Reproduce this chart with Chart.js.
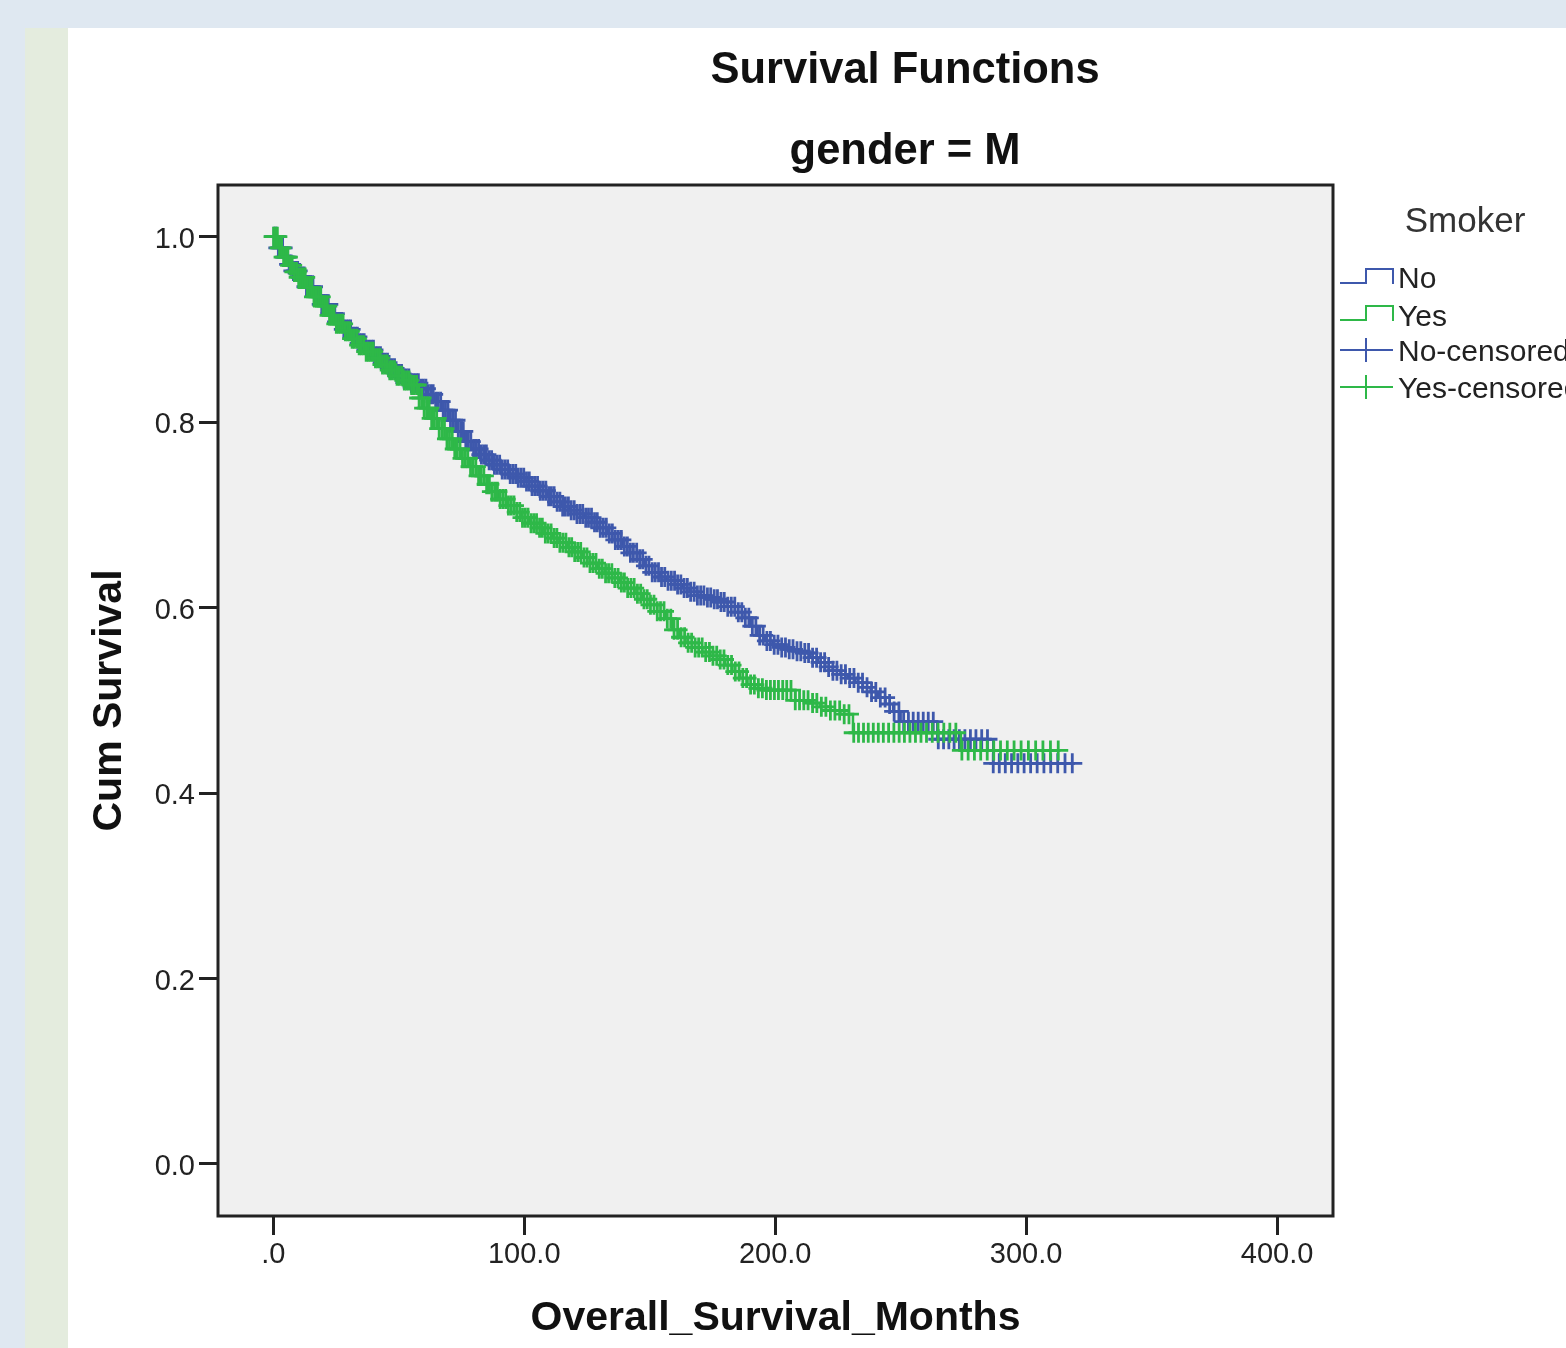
<!DOCTYPE html>
<html>
<head>
<meta charset="utf-8">
<title>Survival Functions</title>
<script src="https://cdn.jsdelivr.net/npm/chart.js@4.4.1/dist/chart.umd.min.js"></script>
<style>
  html, body { margin: 0; padding: 0; }
  body { width: 1566px; height: 1348px; background: #dfe8f1; overflow: hidden; position: relative; }
  #strip { position: absolute; left: 25px; top: 28px; width: 43px; height: 1320px; background: #e4ecde; }
  #panel { position: absolute; left: 68px; top: 28px; width: 1498px; height: 1320px; background: #ffffff; }
  #wrap { position: absolute; left: 68px; top: 28px; width: 1674px; height: 1320px; }
</style>
</head>
<body>
<div id="strip"></div>
<div id="panel"></div>
<div id="wrap"><canvas id="myChart"></canvas></div>
<script>
// data
const seriesLabels = ['No', 'Yes'];
const xTicks = [0, 100, 200, 300, 400];
const yTicks = [0, 0.2, 0.4, 0.6, 0.8, 1.0];

// "No" survival steps (time in months, cum survival)
const noTimes = [0, 2, 4, 6, 8, 10, 13, 16, 19, 22, 25, 28, 31, 34, 37, 40, 43, 46, 49, 52,
  55, 58, 61, 64, 67, 70, 73, 76, 79, 82, 85, 88, 91, 94, 97, 100, 103, 106, 109, 112,
  115, 118, 121, 124, 127, 130, 133, 136, 139, 142, 145, 148, 151, 154, 157, 160, 163, 166, 169, 172,
  175, 178, 181, 184, 187, 190, 193, 196, 199, 202, 205, 208, 211, 214, 217, 220, 223, 226, 229, 232,
  235, 238, 241, 244, 247, 250, 264.6, 286.9, 318.6];
const noSurv = [1.0, 0.988, 0.978, 0.970, 0.963, 0.957, 0.946, 0.936, 0.927, 0.917, 0.908, 0.900, 0.892, 0.885, 0.878, 0.871, 0.864, 0.858, 0.852, 0.847,
  0.842, 0.836, 0.830, 0.822, 0.813, 0.802, 0.790, 0.779, 0.771, 0.765, 0.759, 0.754, 0.749, 0.744, 0.740, 0.736, 0.731, 0.726, 0.720, 0.714,
  0.709, 0.705, 0.701, 0.697, 0.692, 0.686, 0.680, 0.673, 0.666, 0.659, 0.652, 0.645, 0.638, 0.633, 0.629, 0.625, 0.621, 0.617, 0.613, 0.611,
  0.609, 0.606, 0.601, 0.595, 0.589, 0.580, 0.570, 0.564, 0.560, 0.557, 0.555, 0.553, 0.551, 0.546, 0.541, 0.536, 0.532, 0.528, 0.524, 0.519,
  0.514, 0.509, 0.503, 0.496, 0.488, 0.477, 0.458, 0.432, 0.432];

// "Yes" survival steps
const yesTimes = [0, 2, 4, 6, 8, 10, 13, 16, 19, 22, 25, 28, 31, 34, 37, 40, 43, 46, 49, 52,
  55, 58, 60, 63, 66, 69, 72, 75, 78, 81, 84, 87, 90, 93, 96, 99, 102, 105, 108, 111,
  114, 117, 120, 123, 126, 129, 132, 135, 138, 141, 144, 147, 150, 153, 156, 159, 162, 165, 168, 171,
  174, 177, 180, 183, 186, 189, 192, 196, 208, 214, 218, 222, 226, 231, 274, 313];
const yesSurv = [1.0, 0.988, 0.978, 0.969, 0.962, 0.956, 0.945, 0.935, 0.925, 0.915, 0.906, 0.898, 0.890, 0.883, 0.876, 0.869, 0.862, 0.856, 0.850, 0.845,
  0.840, 0.826, 0.815, 0.804, 0.793, 0.782, 0.771, 0.761, 0.752, 0.742, 0.733, 0.725, 0.717, 0.710, 0.703, 0.697, 0.691, 0.686, 0.680, 0.675,
  0.670, 0.665, 0.660, 0.654, 0.648, 0.642, 0.637, 0.632, 0.627, 0.621, 0.615, 0.609, 0.603, 0.596, 0.588, 0.576, 0.568, 0.562, 0.557, 0.552,
  0.548, 0.544, 0.538, 0.531, 0.524, 0.517, 0.513, 0.511, 0.500, 0.497, 0.493, 0.489, 0.485, 0.465, 0.446, 0.446];

// censored times
const noCensored = [0.3, 1.2, 2.0, 2.9, 3.7, 4.6, 5.4, 6.3, 7.1, 8.0, 8.9, 9.7, 10.6, 11.4, 12.3, 13.2, 14.0, 14.9, 15.8, 16.6,
  17.5, 18.4, 19.3, 20.1, 21.0, 21.9, 22.8, 23.7, 24.5, 25.4, 26.3, 27.2, 28.1, 29.0, 29.9, 30.8, 31.7, 32.6, 33.5, 34.4,
  35.3, 36.2, 37.1, 38.0, 39.0, 39.9, 40.8, 41.7, 42.7, 43.6, 44.5, 45.5, 46.4, 47.3, 48.3, 49.2, 50.2, 51.1, 52.1, 53.0,
  54.0, 55.0, 55.9, 56.9, 57.8, 58.8, 59.8, 60.8, 61.7, 62.7, 63.7, 64.7, 65.7, 66.7, 67.7, 68.6, 69.6, 70.6, 71.6, 72.6,
  73.7, 74.7, 75.7, 76.7, 77.7, 78.7, 79.8, 80.8, 81.8, 82.9, 83.9, 84.9, 86.0, 87.0, 88.1, 89.1, 90.2, 91.2, 92.3, 93.4,
  94.4, 95.5, 96.6, 97.6, 98.7, 99.8, 100.9, 102.0, 103.1, 104.2, 105.3, 106.4, 107.5, 108.6, 109.7, 110.8, 111.9, 113.1, 114.2, 115.3,
  116.4, 117.6, 118.7, 119.9, 121.0, 122.2, 123.3, 124.5, 125.6, 126.8, 128.0, 129.1, 130.3, 131.5, 132.7, 133.9, 135.1, 136.3, 137.5, 138.7,
  139.9, 141.1, 142.3, 143.5, 144.8, 146.0, 147.2, 148.5, 149.7, 151.0, 152.2, 153.5, 154.7, 156.0, 157.3, 158.6, 159.9, 161.1, 162.4, 163.7,
  165.0, 166.3, 167.7, 169.0, 170.3, 171.6, 173.0, 174.3, 175.7, 177.0, 178.4, 179.7, 181.1, 182.5, 183.9, 185.3, 186.7, 188.1, 189.5, 190.9,
  192.3, 193.8, 195.2, 196.7, 198.1, 199.6, 201.1, 202.6, 204.1, 205.6, 207.1, 208.7, 210.2, 211.8, 213.3, 214.9, 216.5, 218.1, 219.7, 221.3,
  223.0, 224.6, 226.3, 228.0, 229.7, 231.4, 233.1, 234.8, 236.6, 238.4, 240.1, 241.9, 243.8, 245.6, 247.4, 249.3, 251.2, 253.1, 255.0, 257.0,
  259.0, 261.0, 263.0, 265.0, 267.1, 269.2, 271.3, 273.4, 275.6, 277.8, 280.0, 282.3, 284.6, 286.9, 289.3, 291.7, 294.2, 296.7, 299.2, 301.8,
  304.4, 307.1, 309.8, 312.6, 315.5, 318.4];
const yesCensored = [0.1, 0.8, 1.6, 2.5, 3.3, 4.1, 5.0, 5.8, 6.7, 7.5, 8.4, 9.3, 10.1, 11.0, 11.9, 12.7, 13.6, 14.5, 15.4, 16.2,
  17.1, 18.0, 18.9, 19.8, 20.6, 21.5, 22.4, 23.3, 24.2, 25.1, 26.0, 26.9, 27.8, 28.7, 29.6, 30.5, 31.4, 32.3, 33.3, 34.2,
  35.1, 36.0, 37.0, 37.9, 38.8, 39.8, 40.7, 41.6, 42.6, 43.5, 44.5, 45.4, 46.4, 47.3, 48.3, 49.3, 50.2, 51.2, 52.2, 53.1,
  54.1, 55.1, 56.1, 57.1, 58.1, 59.1, 60.1, 61.1, 62.1, 63.1, 64.1, 65.1, 66.1, 67.2, 68.2, 69.2, 70.2, 71.3, 72.3, 73.3,
  74.4, 75.4, 76.5, 77.5, 78.6, 79.6, 80.7, 81.8, 82.8, 83.9, 85.0, 86.1, 87.1, 88.2, 89.3, 90.4, 91.5, 92.6, 93.7, 94.8,
  95.9, 97.0, 98.2, 99.3, 100.4, 101.5, 102.7, 103.8, 104.9, 106.1, 107.2, 108.4, 109.5, 110.7, 111.9, 113.0, 114.2, 115.4, 116.6, 117.8,
  118.9, 120.1, 121.3, 122.5, 123.8, 125.0, 126.2, 127.4, 128.6, 129.9, 131.1, 132.4, 133.6, 134.9, 136.1, 137.4, 138.7, 139.9, 141.2, 142.5,
  143.8, 145.1, 146.4, 147.7, 149.0, 150.3, 151.7, 153.0, 154.3, 155.7, 157.0, 158.4, 159.7, 161.1, 162.5, 163.9, 165.3, 166.7, 168.1, 169.5,
  170.9, 172.3, 173.8, 175.2, 176.7, 178.1, 179.6, 181.1, 182.6, 184.1, 185.6, 187.1, 188.6, 190.2, 191.7, 193.3, 194.9, 196.5, 198.1, 199.7,
  201.3, 203.0, 204.6, 206.3, 208.0, 209.7, 211.4, 213.1, 214.9, 216.6, 218.4, 220.2, 222.0, 223.8, 225.7, 227.5, 229.4, 231.3, 233.2, 235.2,
  237.1, 239.1, 241.1, 243.1, 245.2, 247.3, 249.4, 251.5, 253.7, 255.9, 258.1, 260.3, 262.6, 264.9, 267.2, 269.6, 272.0, 274.4, 276.9, 279.4,
  281.9, 284.5, 287.1, 289.8, 292.5, 295.2, 298.0, 300.9, 303.8, 306.7, 309.7, 312.8];

const blue = '#3e58ac';
const green = '#2eb848';
const fontFam = '"Liberation Sans", Arial, sans-serif';

// survival value at time t on a step curve
function survAt(times, surv, t) {
  let s = surv[0];
  for (let i = 0; i < times.length; i++) {
    if (times[i] <= t) s = surv[i];
  }
  return s;
}

function stepPoints(times, surv) {
  return times.map((t, i) => ({ x: t, y: surv[i] }));
}

function censorPoints(cens, times, surv) {
  return cens.map(t => ({ x: t, y: survAt(times, surv, t) }));
}

// plot background + frame
const framePlugin = {
  id: 'frame',
  beforeDatasetsDraw(chart) {
    const a = chart.chartArea;
    const ctx = chart.ctx;
    ctx.save();
    ctx.fillStyle = '#f0f0f0';
    ctx.fillRect(a.left, a.top, a.right - a.left, a.bottom - a.top);
    ctx.restore();
  },
  afterDraw(chart) {
    const a = chart.chartArea;
    const ctx = chart.ctx;
    ctx.save();
    ctx.strokeStyle = '#222';
    ctx.lineWidth = 3;
    ctx.strokeRect(a.left, a.top, a.right - a.left, a.bottom - a.top);
    ctx.restore();
  }
};

// SPSS style legend on the right
const legendPlugin = {
  id: 'smokerLegend',
  afterDraw(chart) {
    const ctx = chart.ctx;
    const x0 = 1272, x1 = 1298, x2 = 1325, tx = 1330;
    ctx.save();
    ctx.fillStyle = '#333';
    ctx.font = '35px ' + fontFam;
    ctx.textAlign = 'center';
    ctx.textBaseline = 'middle';
    ctx.fillText('Smoker', 1397, 194);

    ctx.font = '30px ' + fontFam;
    ctx.textAlign = 'left';
    ctx.lineWidth = 2;
    const cols = [blue, green];
    // step icons
    [255, 292].forEach((y, i) => {
      ctx.strokeStyle = cols[i];
      ctx.beginPath();
      ctx.moveTo(x0, y);
      ctx.lineTo(x1, y);
      ctx.lineTo(x1, y - 14);
      ctx.lineTo(x2, y - 14);
      ctx.lineTo(x2, y + 1);
      ctx.stroke();
      ctx.fillStyle = '#222';
      ctx.fillText(seriesLabels[i], tx, y - 3 + i);
    });
    // censored icons
    [322, 359].forEach((y, i) => {
      ctx.strokeStyle = cols[i];
      ctx.beginPath();
      ctx.moveTo(x0, y);
      ctx.lineTo(x2, y);
      ctx.moveTo(x1, y - 12);
      ctx.lineTo(x1, y + 12);
      ctx.stroke();
      ctx.fillStyle = '#222';
      ctx.fillText(seriesLabels[i] + '-censored', tx, y + 3);
    });
    ctx.restore();
  }
};

const data = {
  datasets: [
    {
      type: 'line', label: seriesLabels[1], data: stepPoints(yesTimes, yesSurv),
      borderColor: green, borderWidth: 2.5, stepped: 'before', pointRadius: 0, fill: false, order: 1
    },
    {
      type: 'scatter', label: seriesLabels[1] + '-censored', data: censorPoints(yesCensored, yesTimes, yesSurv),
      borderColor: green, backgroundColor: green, pointStyle: 'cross', pointRadius: 10, borderWidth: 2.8, order: 0
    },
    {
      type: 'line', label: seriesLabels[0], data: stepPoints(noTimes, noSurv),
      borderColor: blue, borderWidth: 2.5, stepped: 'before', pointRadius: 0, fill: false, order: 3
    },
    {
      type: 'scatter', label: seriesLabels[0] + '-censored', data: censorPoints(noCensored, noTimes, noSurv),
      borderColor: blue, backgroundColor: blue, pointStyle: 'cross', pointRadius: 10, borderWidth: 2.8, order: 2
    }
  ]
};

const config = {
  type: 'scatter',
  data,
  options: {
    responsive: true,
    maintainAspectRatio: false,
    animation: false,
    layout: { padding: 0 },
    plugins: {
      legend: { display: false },
      tooltip: { enabled: false },
      title: {
        display: true, text: 'Survival Functions', color: '#111',
        font: { family: fontFam, size: 43.5, weight: 'bold', lineHeight: 1.2 },
        padding: { top: 17, bottom: 0 }
      },
      subtitle: {
        display: true, text: 'gender = M', color: '#111',
        font: { family: fontFam, size: 43.5, weight: 'bold', lineHeight: 1.2 },
        padding: { top: 29, bottom: 6.6 }
      }
    },
    scales: {
      x: {
        type: 'linear', min: -22.05, max: 422.3,
        afterBuildTicks: s => { s.ticks = xTicks.map(v => ({ value: v })); },
        afterFit: s => { s.height = 132; },
        border: { display: false },
        grid: { drawOnChartArea: false, drawTicks: true, tickLength: 19, tickWidth: 3, tickColor: '#222' },
        ticks: {
          color: '#222', padding: 3,
          font: { family: fontFam, size: 29 },
          callback: v => v === 0 ? '.0' : v.toFixed(1)
        },
        title: {
          display: true, text: 'Overall_Survival_Months', color: '#111',
          font: { family: fontFam, size: 41, weight: 'bold', lineHeight: 1.2 },
          padding: { top: 0, bottom: 5 }
        }
      },
      y: {
        type: 'linear', min: -0.0561, max: 1.0557,
        afterBuildTicks: s => { s.ticks = yTicks.map(v => ({ value: v })); },
        afterFit: s => { s.width = 150; },
        border: { display: false },
        grid: { drawOnChartArea: false, drawTicks: true, tickLength: 19, tickWidth: 3, tickColor: '#222' },
        ticks: {
          color: '#222', padding: 4, labelOffset: 3,
          font: { family: fontFam, size: 29 },
          callback: v => v.toFixed(1)
        },
        title: {
          display: true, text: 'Cum Survival', color: '#111',
          font: { family: fontFam, size: 41, weight: 'bold', lineHeight: 1.2 },
          padding: { top: 17, bottom: 0 }
        }
      },
      // empty right-hand box that keeps room for the Smoker legend
      side: {
        type: 'linear', position: 'right', min: 0, max: 1,
        afterFit: s => { s.width = 409; },
        border: { display: false },
        grid: { display: false },
        ticks: { display: false }
      }
    }
  },
  plugins: [framePlugin, legendPlugin]
};

const myChart = new Chart(document.getElementById('myChart'), config);
</script>
</body>
</html>
